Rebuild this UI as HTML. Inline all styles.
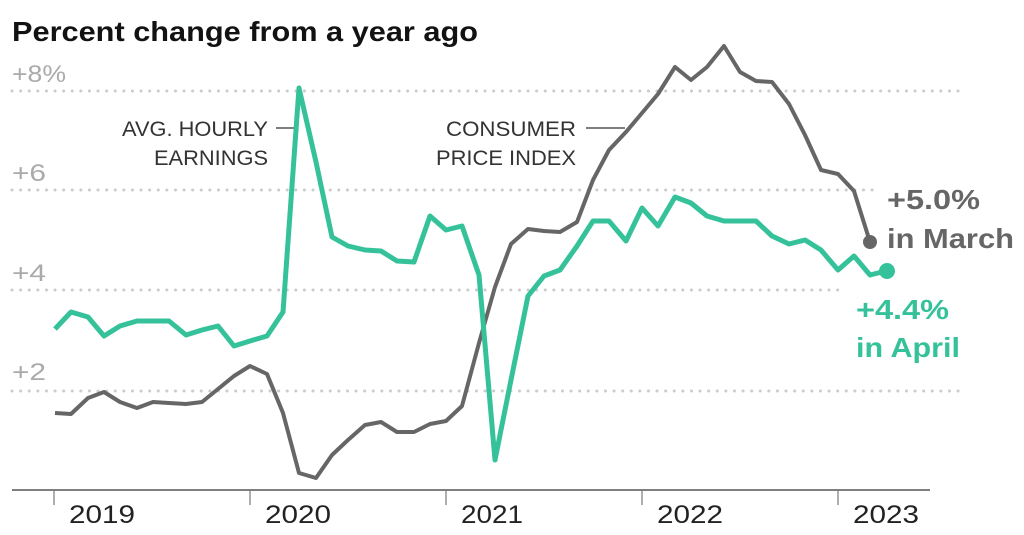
<!DOCTYPE html>
<html><head><meta charset="utf-8"><style>
body{margin:0;background:#fff;}
svg{display:block;font-family:"Liberation Sans",Arial,sans-serif;}
</style></head><body>
<svg width="1024" height="535" viewBox="0 0 1024 535">
<text x="12" y="41" font-size="28" font-weight="bold" fill="#121212" textLength="466" lengthAdjust="spacingAndGlyphs">Percent change from a year ago</text>
<g stroke="#ccc" stroke-width="3" stroke-dasharray="0.1 8.5" stroke-linecap="round">
<line x1="12" y1="91" x2="960" y2="91"/>
<line x1="12" y1="190" x2="875" y2="190"/>
<line x1="12" y1="290" x2="840" y2="290"/>
<line x1="12" y1="391" x2="960" y2="391"/>
</g>
<g font-size="24" fill="#aaa">
<text x="12" y="82" textLength="54" lengthAdjust="spacingAndGlyphs">+8%</text>
<text x="12" y="181" textLength="34" lengthAdjust="spacingAndGlyphs">+6</text>
<text x="12" y="281" textLength="34" lengthAdjust="spacingAndGlyphs">+4</text>
<text x="12" y="380" textLength="34" lengthAdjust="spacingAndGlyphs">+2</text>
</g>
<line x1="12" y1="490" x2="930" y2="490" stroke="#333" stroke-width="1.2"/>
<g stroke="#777" stroke-width="1.2">
<line x1="54" y1="490" x2="54" y2="505"/><line x1="250" y1="490" x2="250" y2="505"/>
<line x1="446" y1="490" x2="446" y2="505"/><line x1="642" y1="490" x2="642" y2="505"/>
<line x1="838" y1="490" x2="838" y2="505"/>
</g>
<g font-size="25" fill="#222">
<text x="69" y="523" textLength="66" lengthAdjust="spacingAndGlyphs">2019</text>
<text x="265" y="523" textLength="66" lengthAdjust="spacingAndGlyphs">2020</text>
<text x="461" y="523" textLength="62" lengthAdjust="spacingAndGlyphs">2021</text>
<text x="657" y="523" textLength="66" lengthAdjust="spacingAndGlyphs">2022</text>
<text x="853" y="523" textLength="66" lengthAdjust="spacingAndGlyphs">2023</text>
</g>
<g font-size="21" fill="#333" text-anchor="end">
<text x="268" y="136" textLength="146" lengthAdjust="spacingAndGlyphs">AVG. HOURLY</text>
<text x="268" y="165" textLength="114" lengthAdjust="spacingAndGlyphs">EARNINGS</text>
<text x="576" y="136" textLength="130" lengthAdjust="spacingAndGlyphs">CONSUMER</text>
<text x="576" y="165" textLength="140" lengthAdjust="spacingAndGlyphs">PRICE INDEX</text>
</g>
<g stroke="#333" stroke-width="1.2"><line x1="276" y1="128" x2="294" y2="128"/><line x1="586" y1="128" x2="625" y2="128"/></g>
<polyline fill="none" stroke="#666" stroke-width="4" stroke-linejoin="round" points="55,413 71,414 88,398 104,392 120,402 137,408 153,402 169,403 186,404 202,402 218,389 234,376 250,366 267,374 283,413 299,473 316,478 332,455 348,440 365,425 381,422 397,432 414,432 430,424 446,421 462,406 479,343 495,287 511,244 528,229 544,231 560,232 577,222 593,180 609,150 626,132 642,113 658,94 675,67 691,80 707,67 724,46 740,72 756,81 772,82 789,104 805,135 821,170 838,174 854,191 870,242"/>
<polyline fill="none" stroke="#35c29a" stroke-width="5" stroke-linejoin="round" points="55,329 71,312 88,317 104,336 120,326 137,321 153,321 169,321 186,335 202,330 218,326 234,346 250,341 267,336 283,312 299,88 316,162 332,237 348,246 365,250 381,251 397,261 414,262 430,216 446,230 462,226 479,275 495,460 511,380 528,296 544,276 560,270 577,246 593,221 609,221 626,241 642,208 658,226 675,197 691,203 707,216 724,221 740,221 756,221 772,236 789,244 805,240 821,250 838,270 854,256 870,275 886,271"/>
<circle cx="870" cy="242" r="7" fill="#666"/>
<circle cx="887" cy="271" r="8" fill="#35c29a"/>
<g font-size="28" font-weight="bold">
<text x="887" y="209" fill="#666" textLength="93" lengthAdjust="spacingAndGlyphs">+5.0%</text>
<text x="887" y="248" fill="#666" textLength="127" lengthAdjust="spacingAndGlyphs">in March</text>
<text x="856" y="319" fill="#35c29a" textLength="93" lengthAdjust="spacingAndGlyphs">+4.4%</text>
<text x="856" y="357" fill="#35c29a" textLength="104" lengthAdjust="spacingAndGlyphs">in April</text>
</g>
</svg>
</body></html>
